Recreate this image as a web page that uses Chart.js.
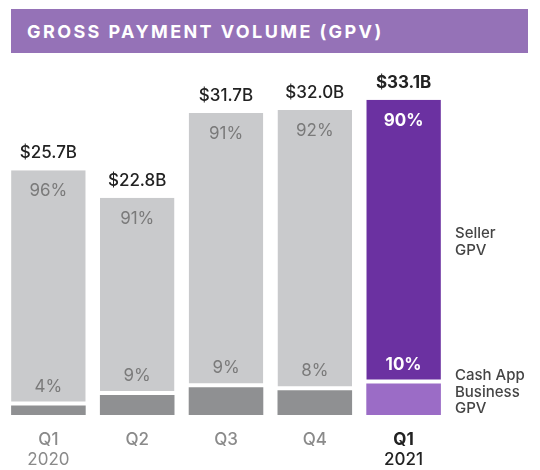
<!DOCTYPE html>
<html>
<head>
<meta charset="utf-8">
<script src="https://cdn.jsdelivr.net/npm/chart.js@4"></script>
<style>
  body { margin: 0; background: #fff; }
  #wrap { position: relative; width: 540px; height: 470px; }
  #title {
    position: absolute; left: 11px; top: 9px; width: 517px; height: 44px;
    background: #9572b7; color: #fff;
    font: 700 18px "Inter", "DejaVu Sans", sans-serif;
    letter-spacing: 2.4px; line-height: 45px; padding-left: 16px; box-sizing: border-box;
  }
  canvas { position: absolute; left: 0; top: 0; }
</style>
</head>
<body>
<div id="wrap">
  <canvas id="chartCanvas" width="540" height="470"></canvas>
  <div id="title">GROSS PAYMENT VOLUME (GPV)</div>
</div>
<script>
// GPV by quarter, $B
const quarters = ["Q1", "Q2", "Q3", "Q4", "Q1"];
const years = ["2020", "", "", "", "2021"];
const totalLabels = ["$25.7B", "$22.8B", "$31.7B", "$32.0B", "$33.1B"];
const sellerGpv = [24.7, 20.7, 28.8, 29.4, 29.8];
const cashAppGpv = [1.0, 2.1, 2.9, 2.6, 3.3];
const sellerPct = ["96%", "91%", "91%", "92%", "90%"];
const cashAppPct = ["4%", "9%", "9%", "8%", "10%"];

const FONT = "Inter, 'DejaVu Sans', sans-serif";
const last = quarters.length - 1;

// text labels on bars + x labels + side legend
const labelPlugin = {
    id: "labels",
    afterDatasetsDraw(chart) {
        const ctx = chart.ctx;
        const seller = chart.getDatasetMeta(1).data;
        const xScale = chart.scales.x;
        ctx.save();
        ctx.textAlign = "center";
        ctx.textBaseline = "middle";

        seller.forEach((bar, i) => {
            const isLast = i === last;
            // total above bar
            ctx.fillStyle = "#222";
            ctx.font = (isLast ? "700 " : "500 ") + "17px " + FONT;
            ctx.fillText(totalLabels[i], bar.x, bar.y - 17);

            // seller %
            ctx.fillStyle = isLast ? "#fff" : "#7a7a7a";
            ctx.font = (isLast ? "700 " : "400 ") + "17px " + FONT;
            ctx.fillText(sellerPct[i], bar.x, bar.y + 21);

            // cash app %
            ctx.fillText(cashAppPct[i], bar.x, bar.base - 19);
        });

        // x labels
        quarters.forEach((q, i) => {
            const x = xScale.getPixelForValue(i);
            const isLast = i === last;
            ctx.fillStyle = isLast ? "#222" : "#8a8a8a";
            ctx.font = (isLast ? "700 " : "500 ") + "17px " + FONT;
            ctx.fillText(q, x, 440);
            ctx.font = (isLast ? "500 " : "400 ") + "17px " + FONT;
            ctx.fillText(years[i], x, 460);
        });

        // side legend
        ctx.textAlign = "left";
        ctx.fillStyle = "#444";
        ctx.font = "500 15px " + FONT;
        ctx.fillText("Seller", 455, 233);
        ctx.fillText("GPV", 455, 250);
        ctx.fillText("Cash App", 455, 375);
        ctx.fillText("Business", 455, 392);
        ctx.fillText("GPV", 455, 408);
        ctx.restore();
    }
};

new Chart(document.getElementById("chartCanvas"), {
    type: "bar",
    data: {
        labels: quarters,
        datasets: [
            {
                label: "Cash App Business GPV",
                data: cashAppGpv,
                backgroundColor: cashAppGpv.map((v, i) => i === last ? "#9b6cc6" : "#8f9092"),
                borderWidth: 0
            },
            {
                label: "Seller GPV",
                data: sellerGpv,
                backgroundColor: sellerGpv.map((v, i) => i === last ? "#6b31a1" : "#c9cacc"),
                borderColor: "#fff",
                borderWidth: { top: 0, left: 0, right: 0, bottom: 4 },
                borderSkipped: false
            }
        ]
    },
    options: {
        responsive: false,
        animation: false,
        layout: { padding: { left: 4, right: 92, top: 72, bottom: 55 } },
        plugins: {
            legend: { display: false },
            tooltip: { enabled: false }
        },
        datasets: {
            bar: { barPercentage: 0.84, categoryPercentage: 1 }
        },
        scales: {
            x: { stacked: true, display: false },
            y: { stacked: true, display: false, min: 0, max: 36 }
        }
    },
    plugins: [labelPlugin]
});
</script>
</body>
</html>
